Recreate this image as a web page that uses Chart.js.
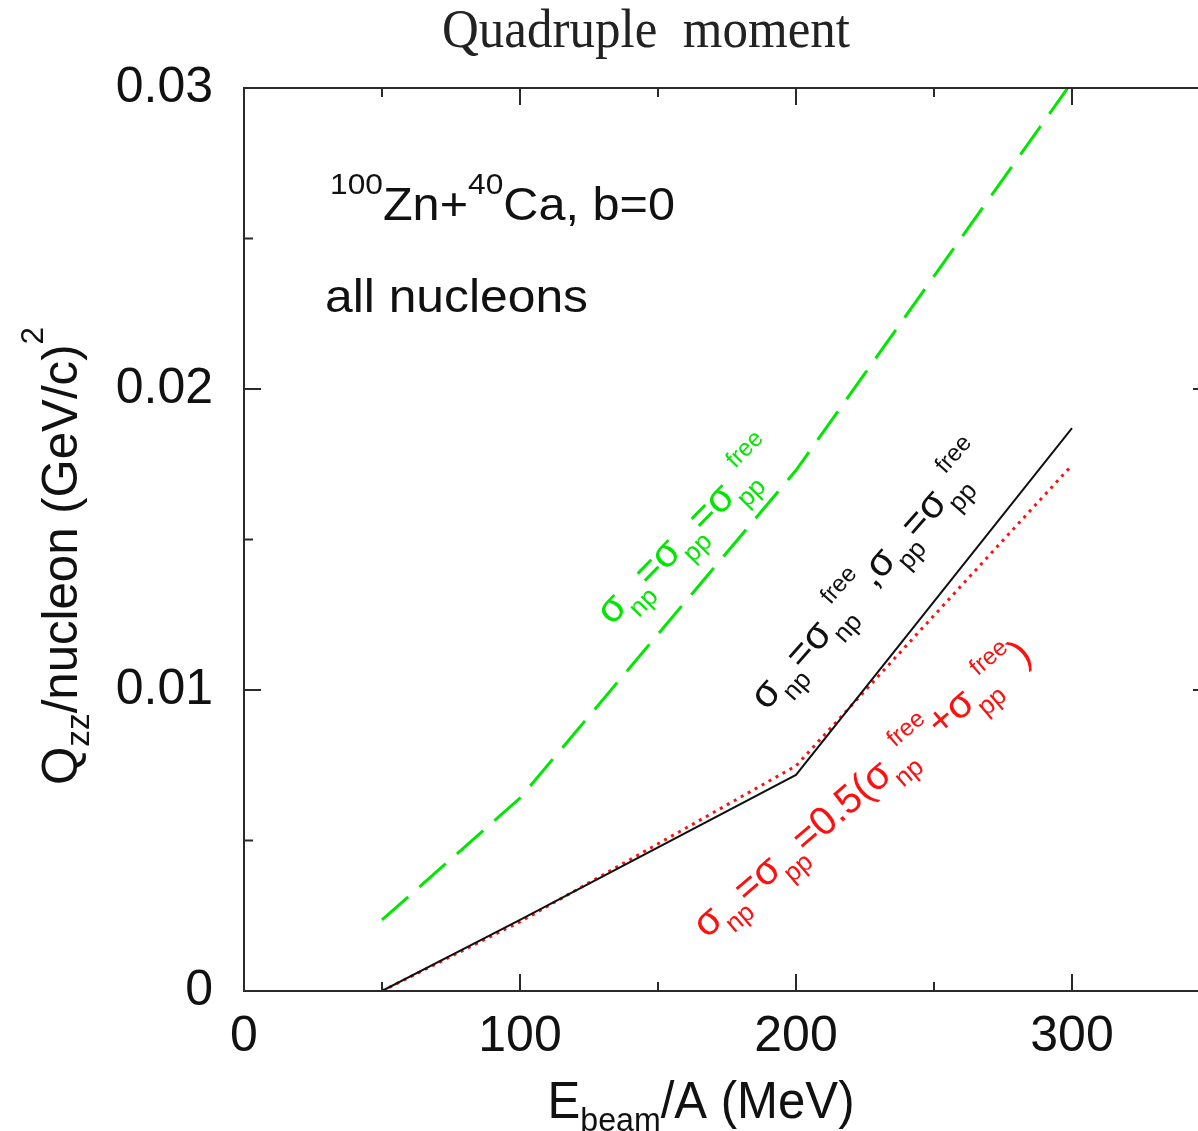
<!DOCTYPE html>
<html><head><meta charset="utf-8">
<script src="https://cdn.jsdelivr.net/npm/chart.js@4.4.0/dist/chart.umd.min.js"></script>
<style>
html,body{margin:0;padding:0;background:#fff;overflow:hidden;width:1198px;height:1131px}
#wrap{position:absolute;left:0;top:0;width:1215px;height:1131px}
</style></head><body><div id="wrap"><canvas id="c" width="1215" height="1131"></canvas></div>
<script>
// ---- data ----
const energies = [50, 100, 200, 300];
const qFreeCross  = [0.00236, 0.00641, 0.01730, 0.03020]; // green dashed
const qMixedCross = [0.00000, 0.00236, 0.00718, 0.01870]; // black solid
const qAvgCross   = [0.00000, 0.00230, 0.00748, 0.01747]; // red dotted
const xTickValues = [0, 100, 200, 300];
const xTickLabels = ['0', '100', '200', '300'];
const xMinorTicks = [50, 150, 250];
const yTickValues = [0, 0.01, 0.02, 0.03];
const yTickLabels = ['0', '0.01', '0.02', '0.03'];
const yMinorTicks = [0.005, 0.015, 0.025];

const GREEN = '#00e800', RED = '#ff1010', BLACK = '#111111';
const SANS = '"Liberation Sans", Arial, sans-serif';

function pts(ys){ return energies.map((x,i)=>({x:x, y:ys[i]})); }

function drawParts(ctx, parts, cfg, measureOnly){
  let cx = 0;
  for (const p of parts){
    if (p.m !== undefined){
      ctx.font = cfg.mainSize + 'px ' + cfg.family;
      if (!measureOnly) ctx.fillText(p.m, cx, 0);
      cx += ctx.measureText(p.m).width;
    } else {
      let w = 0;
      if (p.sub){
        ctx.font = cfg.subSize + 'px ' + cfg.family;
        if (!measureOnly) ctx.fillText(p.sub, cx, cfg.subOff);
        w = ctx.measureText(p.sub).width;
      }
      if (p.sup){
        ctx.font = cfg.supSize + 'px ' + cfg.family;
        const sh = p.sub ? (cfg.supShift||0) : 0;
        if (!measureOnly) ctx.fillText(p.sup, cx + sh, cfg.supOff);
        w = Math.max(w, sh + ctx.measureText(p.sup).width);
      }
      cx += w + (cfg.gap||0);
    }
  }
  return cx;
}

function drawFitted(ctx, parts, cfg, x, y, angleDeg, targetW, align, color){
  ctx.save();
  ctx.fillStyle = color; ctx.textAlign = 'left'; ctx.textBaseline = 'alphabetic';
  ctx.translate(x, y);
  ctx.rotate(angleDeg*Math.PI/180);
  const w = drawParts(ctx, parts, cfg, true);
  const s = targetW / w;
  ctx.scale(s, 1);
  if (align === 'center') ctx.translate(-w/2, 0);
  drawParts(ctx, parts, cfg, false);
  ctx.restore();
}

function drawRotLabel(ctx, parts, cfg, cx0, cy0, angleDeg, color){
  ctx.save();
  ctx.fillStyle = color; ctx.textAlign = 'left'; ctx.textBaseline = 'alphabetic';
  ctx.translate(cx0, cy0);
  ctx.rotate(angleDeg*Math.PI/180);
  ctx.font = cfg.mainSize + 'px ' + cfg.family;
  const w0 = ctx.measureText(parts[0].m).width;
  ctx.translate(-w0/2, cfg.mainSize*0.26);
  drawParts(ctx, parts, cfg, false);
  ctx.restore();
}

const labelCfg = {family: SANS, mainSize: 40, subSize: 26, supSize: 24, subOff: 14, supOff: -22, supShift: 20, gap: 0};

const decor = {
  id: 'decor',
  afterDraw(chart){
    const ctx = chart.ctx, a = chart.chartArea;
    const xs = chart.scales.x, ys = chart.scales.y;
    ctx.save();
    // frame
    ctx.strokeStyle = '#2a2a2a'; ctx.lineWidth = 2;
    ctx.strokeRect(a.left, a.top, a.right - a.left, a.bottom - a.top);
    // ticks
    ctx.lineWidth = 2;
    const tickX = (v, len) => { const px = xs.getPixelForValue(v);
      ctx.beginPath(); ctx.moveTo(px, a.bottom); ctx.lineTo(px, a.bottom - len);
      ctx.moveTo(px, a.top); ctx.lineTo(px, a.top + len); ctx.stroke(); };
    const tickY = (v, len) => { const py = ys.getPixelForValue(v);
      ctx.beginPath(); ctx.moveTo(a.left, py); ctx.lineTo(a.left + len, py);
      ctx.moveTo(a.right, py); ctx.lineTo(a.right - len, py); ctx.stroke(); };
    xTickValues.forEach(v => tickX(v, 17));
    xMinorTicks.forEach(v => tickX(v, 9));
    yTickValues.forEach(v => tickY(v, 17));
    yMinorTicks.forEach(v => tickY(v, 9));
    ctx.restore();

    // title
    drawFitted(ctx, [{m:'Quadruple  moment'}], {family:'"Liberation Serif", "Times New Roman", serif', mainSize:54},
      646, 47, 0, 408, 'center', '#222');
    // y axis title
    drawFitted(ctx, [{m:'Q'}, {sub:'zz'}, {m:'/nucleon (GeV/c)'}, {sup:'2'}],
      {family: SANS, mainSize: 50, subSize: 34, supSize: 32, subOff: 12, supOff: -34},
      77, 556, -90, 458, 'center', BLACK);
    // x axis title
    drawFitted(ctx, [{m:'E'}, {sub:'beam'}, {m:'/A (MeV)'}],
      {family: SANS, mainSize: 52, subSize: 34, subOff: 13},
      701, 1118, 0, 307, 'center', BLACK);
    // annotations
    drawFitted(ctx, [{sup:'100'}, {m:'Zn+'}, {sup:'40'}, {m:'Ca, b=0'}],
      {family: SANS, mainSize: 46, supSize: 30, supOff: -26},
      330, 220, 0, 345, 'left', BLACK);
    drawFitted(ctx, [{m:'all nucleons'}], {family: SANS, mainSize: 46},
      325, 312, 0, 263, 'left', BLACK);

    // curve labels
    drawRotLabel(ctx, [{m:'σ'}, {sub:'np'}, {m:'=σ'}, {sub:'pp'}, {m:'=σ'}, {sub:'pp', sup:'free'}],
      labelCfg, 613, 610, -45.5, GREEN);
    drawRotLabel(ctx, [{m:'σ'}, {sub:'np'}, {m:'=σ'}, {sub:'np', sup:'free'}, {m:',σ'}, {sub:'pp'}, {m:'=σ'}, {sub:'pp', sup:'free'}],
      labelCfg, 767, 695, -48.7, BLACK);
    drawRotLabel(ctx, [{m:'σ'}, {sub:'np'}, {m:'=σ'}, {sub:'pp'}, {m:'=0.5(σ'}, {sub:'np', sup:'free'}, {m:'+σ'}, {sub:'pp', sup:'free'}, {m:')'}],
      labelCfg, 709, 923, -40.7, RED);
  }
};

new Chart(document.getElementById('c'), {
  type: 'line',
  data: {
    datasets: [
      {data: pts(qFreeCross), borderColor: GREEN, borderWidth: 3, borderDash: [35, 15], pointRadius: 0, tension: 0, fill: false},
      {data: pts(qMixedCross), borderColor: BLACK, borderWidth: 2, pointRadius: 0, tension: 0, fill: false},
      {data: pts(qAvgCross), borderColor: RED, borderWidth: 3, borderDash: [3, 5], pointRadius: 0, tension: 0, fill: false}
    ]
  },
  options: {
    responsive: false, animation: false, devicePixelRatio: 1,
    layout: {padding: {top: 88, right: 5, left: 0, bottom: 0}},
    plugins: {legend: {display: false}, tooltip: {enabled: false}, title: {display: false}},
    scales: {
      x: {
        type: 'linear', min: 0, max: 350,
        grid: {display: false, drawTicks: false}, border: {display: false},
        afterBuildTicks: s => { s.ticks = xTickValues.map(v => ({value: v})); },
        afterFit: s => { s.height = 140; },
        ticks: {padding: 16, color: BLACK, font: {family: SANS, size: 50}, maxRotation: 0, autoSkip: false,
          callback: v => xTickLabels[xTickValues.indexOf(v)]}
      },
      y: {
        type: 'linear', min: 0, max: 0.03,
        grid: {display: false, drawTicks: false}, border: {display: false},
        afterBuildTicks: s => { s.ticks = yTickValues.map(v => ({value: v})); },
        afterFit: s => { s.width = 244; },
        ticks: {padding: 31, color: BLACK, font: {family: SANS, size: 50}, autoSkip: false,
          callback: v => yTickLabels[yTickValues.indexOf(v)]}
      }
    }
  },
  plugins: [decor]
});
</script></body></html>
